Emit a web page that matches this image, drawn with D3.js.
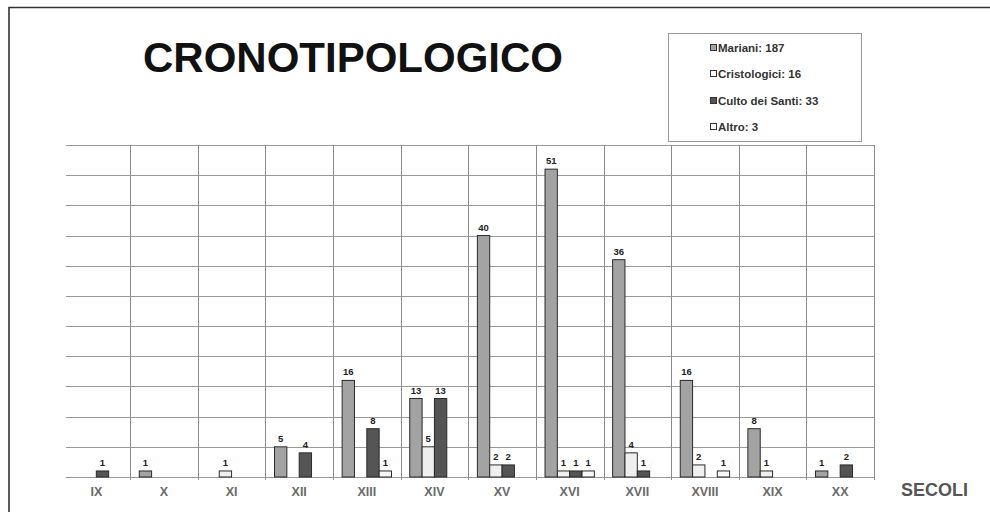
<!DOCTYPE html>
<html>
<head>
<meta charset="utf-8">
<script src="https://cdn.jsdelivr.net/npm/d3@7"></script>
<style>
  html, body { margin: 0; padding: 0; background: #fff; }
  svg { display: block; font-family: "Liberation Sans", Arial, sans-serif; }
</style>
</head>
<body>
<svg id="chart" width="990" height="512"></svg>
<script>
// Centuries on the x axis
const secoli = ["IX", "X", "XI", "XII", "XIII", "XIV", "XV", "XVI", "XVII", "XVIII", "XIX", "XX"];
// Counts per century for each group
const mariani      = [0, 1, 0, 5, 16, 13, 40, 51, 36, 16, 8, 1];
const cristologici = [0, 0, 1, 0, 0, 5, 2, 1, 4, 2, 1, 0];
const cultoSanti   = [1, 0, 0, 4, 8, 13, 2, 1, 1, 0, 0, 2];
const altro        = [0, 0, 0, 0, 1, 0, 0, 1, 0, 1, 0, 0];
const seriesNames  = ["Mariani", "Cristologici", "Culto dei Santi", "Altro"];
const legendLabels = ["Mariani: 187", "Cristologici: 16", "Culto dei Santi: 33", "Altro: 3"];
const yTicks = [0, 5, 10, 15, 20, 25, 30, 35, 40, 45, 50, 55];

const seriesValues = [mariani, cristologici, cultoSanti, altro];
const fills = ["#a3a3a3", "#efefef", "#555555", "#f7f7f7"];

const svg = d3.select("#chart");

const plot = { left: 62.5, right: 874, top: 145, bottom: 477 };

const x = d3.scaleBand().domain(secoli).range([plot.left, plot.right]).paddingInner(0).paddingOuter(0);
const xs = d3.scaleBand().domain(seriesNames).range([0, x.bandwidth()]).paddingInner(0).paddingOuter(0.74);
const y = d3.scaleLinear().domain([0, 55]).range([plot.bottom, plot.top]);

// outer frame (cut off on the right and bottom)
svg.append("path")
  .attr("d", `M9,512 L9,7.5 L990,7.5`)
  .attr("fill", "none").attr("stroke", "#333").attr("stroke-width", 1.6);

// horizontal gridlines
svg.append("g").selectAll("line").data(yTicks).join("line")
  .attr("x1", 66).attr("x2", plot.right)
  .attr("y1", d => Math.round(y(d)) + 0.5).attr("y2", d => Math.round(y(d)) + 0.5)
  .attr("stroke", "#9a9a9a").attr("stroke-width", 1);

// vertical gridlines at category boundaries
const bounds = secoli.slice(1).map(s => x(s)).concat([plot.right]);
svg.append("g").selectAll("line").data(bounds).join("line")
  .attr("x1", d => Math.round(d) + 0.5).attr("x2", d => Math.round(d) + 0.5)
  .attr("y1", plot.top).attr("y2", plot.bottom + 3)
  .attr("stroke", "#8a8a8a").attr("stroke-width", 1);

// bars
const rows = [];
secoli.forEach((s, i) => {
  seriesValues.forEach((vals, k) => {
    if (vals[i] > 0) rows.push({ secolo: s, serie: seriesNames[k], k, value: vals[i] });
  });
});

const g = svg.append("g");
g.selectAll("rect").data(rows).join("rect")
  .attr("x", d => x(d.secolo) + xs(d.serie))
  .attr("y", d => y(d.value))
  .attr("width", xs.bandwidth())
  .attr("height", d => y(0) - y(d.value))
  .attr("fill", d => fills[d.k])
  .attr("stroke", "#2a2a2a").attr("stroke-width", 1);

// value labels
g.selectAll("text").data(rows).join("text")
  .attr("x", d => x(d.secolo) + xs(d.serie) + xs.bandwidth() / 2)
  .attr("y", d => y(d.value) - 5)
  .attr("text-anchor", "middle")
  .attr("font-size", 9.5).attr("font-weight", "bold").attr("fill", "#222")
  .text(d => d.value);

// x axis labels
const xAxis = d3.axisBottom(x).tickSize(0).tickPadding(10);
const ax = svg.append("g").attr("transform", `translate(0,${plot.bottom})`).call(xAxis);
ax.select(".domain").remove();
ax.selectAll("text")
  .attr("font-size", 12.5).attr("font-weight", "bold").attr("fill", "#6a6a6a")
  .attr("font-family", "'Liberation Sans', Arial, sans-serif");

// axis title
svg.append("text").attr("x", 901).attr("y", 496)
  .attr("font-size", 18).attr("font-weight", "bold").attr("fill", "#555")
  .text("SECOLI");

// chart title
svg.append("text").attr("x", 143).attr("y", 72)
  .attr("font-size", 42).attr("font-weight", "bold").attr("fill", "#111")
  .text("CRONOTIPOLOGICO");

// legend
const lg = svg.append("g");
lg.append("rect").attr("x", 668.5).attr("y", 33.5).attr("width", 193).attr("height", 108)
  .attr("fill", "#fff").attr("stroke", "#999").attr("stroke-width", 1);
const legendFills = ["#a3a3a3", "#ffffff", "#555555", "#f7f7f7"];
const ly = [48, 74, 101, 127];
legendLabels.forEach((lab, i) => {
  lg.append("rect").attr("x", 710.5).attr("y", ly[i] - 3.5).attr("width", 6).attr("height", 6)
    .attr("fill", legendFills[i]).attr("stroke", "#333").attr("stroke-width", 1);
  lg.append("text").attr("x", 718).attr("y", ly[i] + 4)
    .attr("font-size", 11.5).attr("font-weight", "bold").attr("fill", "#333")
    .text(lab);
});
</script>
</body>
</html>
